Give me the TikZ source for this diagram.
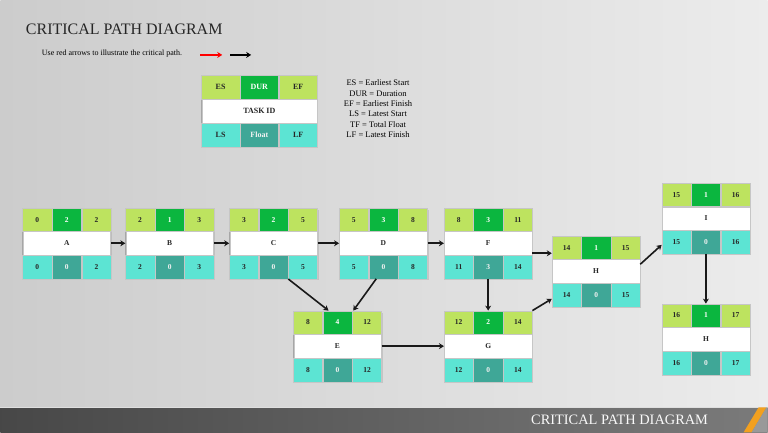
\documentclass[tikz,border=0pt]{standalone}
\usepackage{fontspec}
\setmainfont{Liberation Serif}
\usetikzlibrary{positioning,calc,arrows.meta,shadows}
\definecolor{esgreen}{HTML}{BDE35F}
\definecolor{durgreen}{HTML}{0BB63F}
\definecolor{lscyan}{HTML}{5CE4D3}
\definecolor{floatteal}{HTML}{3FA797}
\definecolor{barorange}{HTML}{F2A01F}

\begin{document}
\begin{tikzpicture}[x=1pt,y=-1pt,
    cell/.style={draw=gray!45,line width=0.4pt,minimum width=29.2pt,minimum height=23.4pt,inner sep=0pt,
      font=\fontsize{7.5}{8}\selectfont\bfseries,text=black!85},
    keycell/.style={cell,minimum width=38.4pt,minimum height=23.7pt,font=\fontsize{8}{9}\selectfont\bfseries},
    taskbox/.style={draw=gray!70,line width=1pt,fill=white,minimum width=87.6pt,minimum height=70.2pt,inner sep=0pt,
      drop shadow={opacity=0.25,shadow xshift=1.5pt,shadow yshift=-1.5pt}},
    link/.style={-{Stealth[length=5pt,width=6pt]}}]

  % background and footer bar
  \shade[left color=gray!40,right color=gray!15] (0,0) rectangle (768,433);
  \shade[left color=black!72,right color=black!52] (0,408) rectangle (768,433);
  \draw[gray!25,line width=1pt] (0,408) -- (768,408);
  \fill[barorange] (759,408) -- (767,408) -- (752,433) -- (744,433) -- cycle;
  \fill[black!40] (767,408) -- (768,408) -- (768,433) -- (752,433) -- cycle;
  \node[anchor=east,text=white!95!gray,font=\fontsize{14.4}{16}\selectfont] (footer) at (712,420) {CRITICAL PATH DIAGRAM};

  % heading
  \node[anchor=west,text=black!85,font=\fontsize{16}{19}\selectfont] (title) at (22,29) {CRITICAL PATH DIAGRAM};
  \node[anchor=west,font=\fontsize{8}{9}\selectfont] (hint) at (38,54) {Use red arrows to illustrate the critical path.};
  \coordinate (r1) at (200,55);
  \coordinate (r2) at (222,55);
  \coordinate (b1) at (230,55);
  \coordinate (b2) at (251,55);
  \draw[link,red,line width=1.4pt] (r1) -- (r2);
  \draw[link,black,line width=1.4pt] (b1) -- (b2);

  % key
  \node[taskbox,minimum width=115.2pt,minimum height=71.1pt,anchor=north west] (key) at (201,75) {};
  \node[keycell,fill=esgreen,anchor=north west] (k-es) at (key.north west) {ES};
  \node[keycell,fill=durgreen,text=white,right=0pt of k-es] (k-du) {DUR};
  \node[keycell,fill=esgreen,right=0pt of k-du] (k-ef) {EF};
  \node[keycell,fill=white,minimum width=115.2pt,below=0pt of k-du] (k-id) {TASK ID};
  \node[keycell,fill=floatteal,text=white!90!gray,below=0pt of k-id] (k-fl) {Float};
  \node[keycell,fill=lscyan,left=0pt of k-fl] (k-ls) {LS};
  \node[keycell,fill=lscyan,right=0pt of k-fl] (k-lf) {LF};
  \node[align=center,font=\fontsize{8.5}{10.4}\selectfont] (defs) at (378,109)
    {ES = Earliest Start\\DUR = Duration\\EF = Earliest Finish\\LS = Latest Start\\TF = Total Float\\LF = Latest Finish};

  % tasks
  \foreach \n/\x/\y/\es/\du/\ef/\id/\ls/\fl/\lf in {
      A/22/208/0/2/2/A/0/0/2,
      B/125/208/2/1/3/B/2/0/3,
      C/229/208/3/2/5/C/3/0/5,
      D/339/208/5/3/8/D/5/0/8,
      F/444/208/8/3/11/F/11/3/14,
      E/293/311/8/4/12/E/8/0/12,
      G/444/311/12/2/14/G/12/0/14,
      H/552/236/14/1/15/H/14/0/15,
      I/662/183/15/1/16/I/15/0/16,
      Hb/662/304/16/1/17/H/16/0/17}{
    \node[taskbox,anchor=north west] (\n) at (\x,\y) {};
    \node[cell,fill=esgreen,anchor=north west] (\n-es) at (\n.north west) {\es};
    \node[cell,fill=durgreen,text=white,right=0pt of \n-es] (\n-du) {\du};
    \node[cell,fill=esgreen,right=0pt of \n-du] (\n-ef) {\ef};
    \node[cell,fill=white,minimum width=87.6pt,below=0pt of \n-du] (\n-id) {\id};
    \node[cell,fill=floatteal,text=white!90!gray,below=0pt of \n-id] (\n-fl) {\fl};
    \node[cell,fill=lscyan,left=0pt of \n-fl] (\n-ls) {\ls};
    \node[cell,fill=lscyan,right=0pt of \n-fl] (\n-lf) {\lf};
  }

  % links
  \begin{scope}[every edge/.style={draw=black!90,line width=1.6pt}]
    \path[link] (A) edge (B) (B) edge (C) (C) edge (D) (D) edge (F);
    \path[link] (E) edge (G) (F) edge (G) (I) edge (Hb);
    \path[link] ([yshift=-10pt]F.east) edge ([yshift=-10pt]F.east -| H.west);
    \path[link] (C-fl.south east) edge ($(E.north west)!0.4!(E.north east)$);
    \path[link] ($(D.south west)!0.42!(D.south east)$) edge ($(E.north west)!0.68!(E.north east)$);
    \path[link] (G.north east) edge ([yshift=8pt]H.south west);
    \path[link] ([yshift=7pt]H.east) edge ([yshift=9pt]I.south west);
  \end{scope}
\end{tikzpicture}
\end{document}
